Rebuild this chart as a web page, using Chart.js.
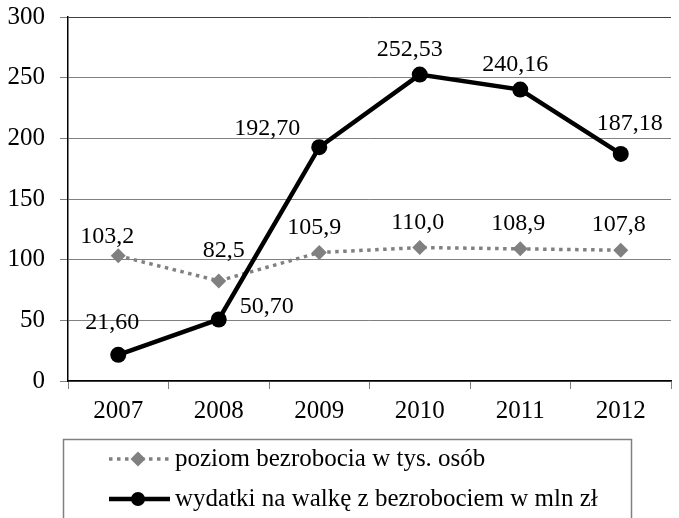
<!DOCTYPE html>
<html>
<head>
<meta charset="utf-8">
<script src="https://cdn.jsdelivr.net/npm/chart.js@4/dist/chart.umd.min.js"></script>
<style>
  html, body { margin: 0; padding: 0; background: #fff; }
  #wrap { width: 679px; height: 518px; }
</style>
</head>
<body>
<div id="wrap"><canvas id="chart" width="679" height="518"></canvas></div>
<script>
// dane z wykresu
const years = ['2007', '2008', '2009', '2010', '2011', '2012'];
const bezrobocie = [103.2, 82.5, 105.9, 110.0, 108.9, 107.8];
const wydatki = [21.60, 50.70, 192.70, 252.53, 240.16, 187.18];
const seriesNames = ['poziom bezrobocia w tys. osób', 'wydatki na walkę z bezrobociem w mln zł'];
const yTicks = [0, 50, 100, 150, 200, 250, 300];

const FONT = '"Liberation Serif", "Times New Roman", Times, serif';
const GREY = '#808080';

// przesunięcia etykiet względem punktów (tylko wygląd)
const labelShift = [
    [[-11, -19], [5, -30], [-5, -25], [-2, -25], [-2, -25], [-2, -25]],
    [[-6, -32], [48, -13], [-52, -18], [-10, -25], [-5, -25], [9, -30]]
];

// etykiety wartości z przecinkiem
const valueLabels = {
    id: 'valueLabels',
    afterDatasetsDraw(chart) {
        const ctx = chart.ctx;
        ctx.save();
        ctx.font = '24px ' + FONT;
        ctx.fillStyle = '#000';
        ctx.textAlign = 'center';
        ctx.textBaseline = 'middle';
        chart.data.datasets.forEach((ds, di) => {
            const meta = chart.getDatasetMeta(di);
            meta.data.forEach((pt, i) => {
                const txt = ds.data[i].toFixed(ds.decimals).replace('.', ',');
                const s = labelShift[di][i];
                ctx.fillText(txt, pt.x + s[0], pt.y + s[1]);
            });
        });
        ctx.restore();
    }
};

// legenda w ramce pod wykresem
const boxLegend = {
    id: 'boxLegend',
    afterDraw(chart) {
        const ctx = chart.ctx;
        ctx.save();
        ctx.strokeStyle = GREY;
        ctx.lineWidth = 1.5;
        ctx.strokeRect(63.5, 439.5, 568, 100);

        const rows = [459, 499];
        chart.data.datasets.forEach((ds, di) => {
            const y = rows[di];
            ctx.beginPath();
            ctx.strokeStyle = ds.borderColor;
            ctx.lineWidth = ds.borderWidth;
            ctx.setLineDash(ds.borderDash || []);
            ctx.moveTo(109, y);
            ctx.lineTo(170, y);
            ctx.stroke();
            ctx.setLineDash([]);
            ctx.fillStyle = ds.pointBackgroundColor;
            ctx.beginPath();
            const r = ds.pointRadius;
            if (ds.pointStyle === 'rectRot') {
                ctx.moveTo(138, y - r);
                ctx.lineTo(138 + r, y);
                ctx.lineTo(138, y + r);
                ctx.lineTo(138 - r, y);
                ctx.closePath();
            } else {
                ctx.arc(138, y, r - 1, 0, Math.PI * 2);
            }
            ctx.fill();
            ctx.fillStyle = '#000';
            ctx.font = '25px ' + FONT;
            ctx.textAlign = 'left';
            ctx.textBaseline = 'middle';
            ctx.fillText(ds.label, 175, y);
        });
        ctx.restore();
    }
};

function draw() {
    new Chart(document.getElementById('chart'), {
        type: 'line',
        data: {
            labels: years,
            datasets: [
                {
                    label: seriesNames[0],
                    data: bezrobocie,
                    decimals: 1,
                    borderColor: GREY,
                    borderWidth: 3.5,
                    borderDash: [3.5, 4.5],
                    pointStyle: 'rectRot',
                    pointRadius: 7.5,
                    pointHoverRadius: 7.5,
                    pointBackgroundColor: GREY,
                    pointBorderWidth: 0,
                    tension: 0,
                    order: 2
                },
                {
                    label: seriesNames[1],
                    data: wydatki,
                    decimals: 2,
                    borderColor: '#000',
                    borderWidth: 4.5,
                    pointStyle: 'circle',
                    pointRadius: 8,
                    pointHoverRadius: 8,
                    pointBackgroundColor: '#000',
                    pointBorderWidth: 0,
                    tension: 0,
                    order: 1
                }
            ]
        },
        options: {
            responsive: false,
            animation: false,
            devicePixelRatio: 1,
            layout: { padding: { top: 17, right: 0, left: 0, bottom: 0 } },
            plugins: {
                legend: { display: false },
                tooltip: { enabled: false }
            },
            scales: {
                x: {
                    offset: true,
                    grid: {
                        offset: true,
                        drawOnChartArea: false,
                        tickLength: 8,
                        tickColor: GREY
                    },
                    border: { color: '#000', width: 1.5 },
                    ticks: {
                        color: '#000',
                        font: { family: FONT, size: 25 },
                        padding: 7,
                        maxRotation: 0
                    },
                    afterFit(scale) {
                        scale.height = 137;
                        scale.paddingLeft = 0;
                        scale.paddingRight = 0;
                    }
                },
                y: {
                    min: 0,
                    max: 300,
                    afterBuildTicks(scale) { scale.ticks = yTicks.map(v => ({ value: v })); },
                    grid: {
                        color: ctx => ctx.tick && ctx.tick.value === 300 ? '#404040' : GREY,
                        tickLength: 8,
                        tickColor: GREY
                    },
                    border: { color: '#000', width: 1.5 },
                    ticks: {
                        color: '#000',
                        font: { family: FONT, size: 25 },
                        padding: 15
                    },
                    afterFit(scale) {
                        scale.width = 68;
                        scale.paddingTop = 0;
                        scale.paddingBottom = 0;
                    }
                }
            }
        },
        plugins: [valueLabels, boxLegend]
    });
}

// czekamy na czcionkę, żeby tekst nie wyszedł innym krojem
if (document.fonts && document.fonts.load) {
    document.fonts.load('25px "Liberation Serif"').then(draw, draw);
} else {
    draw();
}
</script>
</body>
</html>
